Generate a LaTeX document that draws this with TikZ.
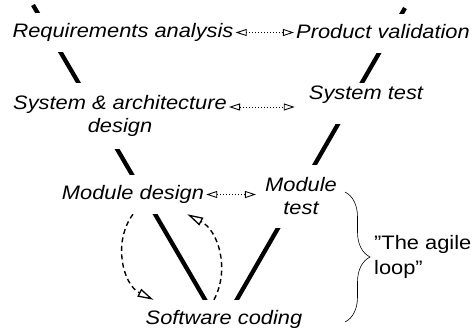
\documentclass[tikz,border=0pt]{standalone}
\usepackage{fontspec}
\newfontfamily\vfont[FakeStretch=1.12]{Liberation Sans}
\usetikzlibrary{arrows.meta,decorations.pathreplacing}

\begin{document}
\begin{tikzpicture}[x=1pt, y=-1pt,
    phase/.style={fill=white, inner xsep=2pt, inner ysep=10pt, align=center,
        font=\vfont\itshape\fontsize{19.5}{23}\selectfont},
    oneline/.style={text height=14pt, text depth=5pt},
    note/.style={inner sep=2pt, align=left, font=\vfont\fontsize{19.5}{25}\selectfont},
    arm/.style={line width=4.3pt},
    trace/.style={dotted, line width=1pt,
        {Triangle[open,length=11pt,width=7pt,line width=0.9pt]}-{Triangle[open,length=11pt,width=7pt,line width=0.9pt]}},
    loopback/.style={dash pattern=on 5pt off 3.5pt, line width=1.4pt,
        -{Triangle[open,length=16pt,width=8.5pt,line width=1.3pt]}}]
\useasboundingbox (0,0) rectangle (473,330);

% the V
\coordinate (ltop) at (33,5);
\coordinate (rtop) at (405,8);
\coordinate (vtip) at (221,327);
\draw[arm] (ltop) -- (vtip) -- (rtop);

\node[phase, oneline] (req) at (123,32.5) {Requirements analysis};
\node[phase, oneline] (val) at (383,33.5) {Product validation};

\node[phase, inner ysep=12pt] (sys) at (120,116) {System \& architecture\\design};
\node[phase, text height=6pt, text depth=15pt] (stest) at (366,103.5) {System test};

\node[phase, oneline] (mdes) at (133,194.5) {Module design};
\node[phase, inner ysep=13pt] (mtest) at (301,196.5) {Module\\test};

\node[phase, oneline] (code) at (224,319.5) {Software coding};

\draw[trace] (req.east) -- (req.east -| val.west);
\draw[trace, shorten >=12pt] ([yshift=9pt]sys.east) -- ([yshift=9pt]sys.east -| stest.west);
\draw[trace, shorten >=7pt] (mdes.east) -- (mdes.east -| mtest.west);

% agile loop
\draw[loopback] (mdes.south) to[bend right=50] ([xshift=10pt]code.north west);
\draw[loopback] ([xshift=-10pt]code.north) to[bend right=45] ([xshift=-19pt]mdes.south east);

\coordinate (btop) at (345,192);
\coordinate (bbot) at (345,322);
\draw[decorate, decoration={brace, amplitude=25pt}, line width=0.6pt] (btop) -- (bbot);
\node[note, anchor=west] (agile) at (372,257) {”The agile\\loop”};
\end{tikzpicture}
\end{document}
